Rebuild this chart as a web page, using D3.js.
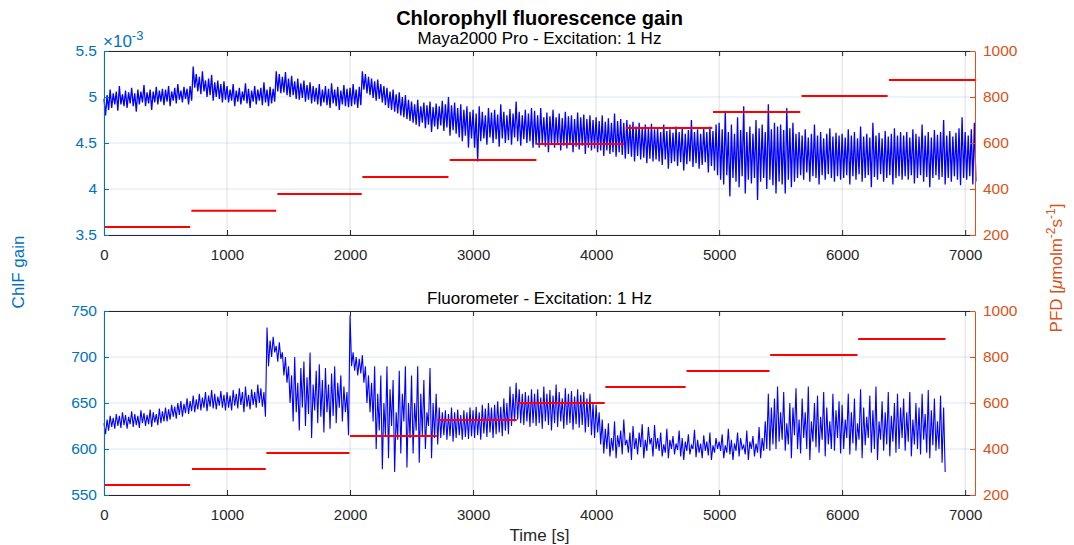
<!DOCTYPE html>
<html>
<head>
<meta charset="utf-8">
<script src="https://cdn.jsdelivr.net/npm/d3@7"></script>
<style>
  body { margin: 0; background: #fff; }
  text { font-family: "Liberation Sans", Arial, Helvetica, sans-serif; }
</style>
</head>
<body>
<div id="chart-area"></div>
<script>
const W = 1074, H = 545
const LEFT = 104, RIGHT = 975
const TOP_PANEL = {top: 51, bottom: 235}
const BOT_PANEL = {top: 311, bottom: 495}
const BLUE_AX = "#0072BD", ORANGE = "#D95319", DARK = "#262626"

// width of one time bin (s); each bin has a high and low value
const STEP = 25

// Maya2000 Pro ChlF gain (x1e-3), per 25 s bin
const mayaHi = [
  4.98, 5.02, 5.08, 5.04, 5.06, 5.12, 5.03, 5.07, 5.05, 5.10, 5.04, 5.08, 5.06, 5.13, 5.05, 5.08, 5.06, 5.11, 5.07, 5.09,
  5.08, 5.12, 5.06, 5.10, 5.14, 5.07, 5.11, 5.09, 5.12, 5.33, 5.25, 5.22, 5.28, 5.18, 5.20, 5.24, 5.16, 5.18, 5.14, 5.17,
  5.12, 5.08, 5.14, 5.07, 5.10, 5.06, 5.15, 5.09, 5.07, 5.12, 5.08, 5.10, 5.16, 5.08, 5.11, 5.09, 5.28, 5.25, 5.22, 5.27,
  5.20, 5.23, 5.17, 5.20, 5.15, 5.18, 5.13, 5.16, 5.12, 5.10, 5.14, 5.08, 5.12, 5.09, 5.15, 5.08, 5.11, 5.07, 5.13, 5.09,
  5.10, 5.14, 5.08, 5.11, 5.28, 5.25, 5.22, 5.20, 5.17, 5.19, 5.14, 5.12, 5.10, 5.06, 5.08, 5.03, 5.05, 5.00, 5.02, 4.97,
  4.95, 4.92, 4.97, 4.90, 4.94, 4.91, 4.95, 4.89, 4.93, 4.90, 4.96, 4.92, 5.00, 4.91, 4.94, 4.88, 4.92, 4.86, 4.90, 4.84,
  4.86, 4.82, 4.90, 4.84, 4.80, 4.88, 4.83, 4.86, 4.81, 4.92, 4.84, 4.80, 4.87, 4.82, 4.95, 4.84, 4.80, 4.86, 4.82, 4.88,
  4.85, 4.80, 4.88, 4.78, 4.83, 4.79, 4.86, 4.78, 4.82, 4.77, 4.84, 4.79, 4.80, 4.76, 4.83, 4.78, 4.81, 4.76, 4.80, 4.75,
  4.78, 4.74, 4.80, 4.73, 4.77, 4.72, 4.82, 4.74, 4.76, 4.72, 4.75, 4.70, 4.73, 4.68, 4.72, 4.67, 4.70, 4.66, 4.71, 4.65,
  4.66, 4.62, 4.70, 4.63, 4.65, 4.61, 4.68, 4.62, 4.66, 4.60, 4.64, 4.75, 4.62, 4.65, 4.60, 4.66, 4.62, 4.68, 4.63, 4.70,
  4.72, 4.65, 4.85, 4.62, 4.70, 4.60, 4.78, 4.64, 4.90, 4.62, 4.68, 4.60, 4.75, 4.66, 4.70, 4.62, 4.92, 4.65, 4.72, 4.68,
  4.70, 4.64, 4.88, 4.66, 4.72, 4.60, 4.62, 4.58, 4.65, 4.56, 4.60, 4.70, 4.58, 4.62, 4.55, 4.60, 4.66, 4.57, 4.61, 4.58,
  4.60, 4.56, 4.65, 4.58, 4.62, 4.55, 4.68, 4.57, 4.60, 4.56, 4.72, 4.58, 4.61, 4.55, 4.63, 4.57, 4.60, 4.66, 4.58, 4.62,
  4.58, 4.62, 4.56, 4.65, 4.60, 4.57, 4.70, 4.58, 4.62, 4.56, 4.64, 4.59, 4.62, 4.75, 4.58, 4.63, 4.57, 4.61, 4.66, 4.78,
  4.62, 4.58, 4.65, 4.72
]
const mayaLo = [
  4.80, 4.86, 4.88, 4.92, 4.85, 4.92, 4.90, 4.88, 4.93, 4.90, 4.84, 4.92, 4.94, 4.90, 4.93, 4.86, 4.94, 4.92, 4.95, 4.91,
  4.95, 4.90, 4.96, 4.93, 4.97, 4.94, 4.98, 4.92, 4.96, 5.10, 5.06, 5.03, 5.06, 5.00, 5.02, 4.96, 5.00, 4.98, 4.94, 4.97,
  4.94, 4.96, 4.90, 4.95, 4.92, 4.96, 4.93, 4.88, 4.95, 4.92, 4.96, 4.91, 4.94, 4.90, 4.93, 4.95, 5.06, 5.04, 5.05, 5.02,
  5.00, 5.02, 4.98, 4.97, 4.99, 4.95, 4.97, 4.93, 4.95, 4.92, 4.90, 4.94, 4.91, 4.88, 4.93, 4.90, 4.86, 4.92, 4.90, 4.89,
  4.90, 4.92, 4.88, 4.91, 5.08, 5.04, 5.02, 4.99, 4.96, 4.98, 4.94, 4.91, 4.88, 4.86, 4.84, 4.82, 4.80, 4.78, 4.76, 4.74,
  4.72, 4.70, 4.68, 4.72, 4.66, 4.70, 4.62, 4.68, 4.65, 4.69, 4.63, 4.67, 4.58, 4.64, 4.60, 4.56, 4.52, 4.58, 4.45, 4.55,
  4.45, 4.30, 4.52, 4.55, 4.48, 4.56, 4.50, 4.54, 4.46, 4.55, 4.50, 4.53, 4.48, 4.56, 4.52, 4.47, 4.54, 4.50, 4.52, 4.45,
  4.48, 4.45, 4.50, 4.46, 4.40, 4.49, 4.45, 4.48, 4.42, 4.47, 4.44, 4.48, 4.40, 4.46, 4.43, 4.47, 4.38, 4.45, 4.42, 4.44,
  4.40, 4.42, 4.36, 4.42, 4.38, 4.40, 4.35, 4.40, 4.37, 4.33, 4.38, 4.35, 4.30, 4.36, 4.32, 4.34, 4.28, 4.33, 4.30, 4.32,
  4.30, 4.26, 4.32, 4.22, 4.28, 4.30, 4.25, 4.29, 4.20, 4.27, 4.30, 4.24, 4.28, 4.22, 4.26, 4.29, 4.18, 4.25, 4.20, 4.15,
  4.10, 4.05, 4.15, 3.92, 4.12, 4.08, 4.02, 4.14, 3.95, 4.10, 4.06, 4.12, 3.88, 4.08, 4.12, 4.00, 4.10, 4.04, 3.95, 4.08,
  4.05, 3.95, 4.10, 4.02, 4.08, 4.12, 4.15, 4.10, 4.18, 4.08, 4.14, 4.12, 4.05, 4.15, 4.10, 4.16, 4.12, 4.08, 4.14, 4.10,
  4.12, 4.15, 4.05, 4.14, 4.10, 4.16, 4.08, 4.12, 4.15, 4.02, 4.13, 4.10, 4.16, 4.08, 4.12, 4.15, 4.05, 4.12, 4.14, 4.10,
  4.14, 4.10, 4.15, 4.06, 4.12, 4.15, 4.08, 4.13, 4.02, 4.12, 4.15, 4.10, 4.13, 4.05, 4.12, 4.08, 4.14, 4.10, 4.04, 4.12,
  4.10, 4.14, 4.05, 4.08
]

// Fluorometer ChlF gain, per 25 s bin
const fluoHi = [
  628, 632, 636, 634, 638, 636, 640, 637, 635, 641, 638, 636, 642, 639, 637, 643, 640, 638, 644, 641,
  645, 643, 648, 646, 650, 652, 649, 655, 652, 658, 654, 660, 656, 662, 658, 664, 660, 657, 663, 659,
  662, 658, 664, 660, 666, 662, 668, 659, 665, 662, 670, 666, 662, 732, 718, 722, 712, 716, 705, 700,
  690, 680, 700, 672, 688, 695, 678, 705, 670, 685, 692, 675, 688, 670, 682, 690, 672, 680, 668, 662,
  745, 705, 700, 698, 702, 690, 680, 672, 690, 660, 680, 650, 690, 665, 675, 640, 685, 660, 690, 650,
  680, 650, 690, 660, 675, 640, 688, 650, 660, 645, 640, 642, 638, 645, 640, 643, 637, 642, 640, 645,
  642, 646, 640, 648, 644, 650, 645, 648, 652, 646, 655, 650, 668, 660, 672, 665, 660, 662, 658, 665,
  660, 665, 656, 668, 660, 664, 658, 670, 662, 655, 666, 660, 663, 657, 665, 659, 662, 655, 660, 650,
  648, 640, 632, 622, 628, 612, 630, 615, 620, 632, 610, 618, 625, 612, 618, 627, 610, 624, 612, 626,
  612, 618, 605, 622, 610, 614, 606, 620, 612, 608, 616, 604, 621, 610, 606, 615, 608, 618, 604, 612,
  608, 616, 604, 622, 610, 606, 618, 612, 604, 620, 608, 614, 606, 624, 612, 630, 660, 645, 655, 668,
  640, 662, 628, 650, 645, 666, 632, 655, 640, 668, 630, 650, 658, 635, 662, 645, 630, 660, 642, 652,
  648, 632, 660, 640, 655, 628, 665, 645, 635, 658, 642, 668, 630, 652, 640, 662, 636, 650, 660, 645,
  655, 640, 662, 632, 650, 645, 660, 638, 664, 642, 655, 630, 658, 645
]
const fluoLo = [
  616, 620, 624, 622, 625, 623, 626, 622, 627, 624, 626, 623, 628, 625, 627, 624, 629, 626, 628, 630,
  630, 632, 635, 633, 637, 635, 639, 638, 641, 640, 643, 642, 645, 641, 646, 644, 643, 647, 645, 642,
  645, 642, 647, 644, 648, 640, 646, 643, 648, 645, 650, 646, 635, 690, 700, 705, 695, 698, 680, 672,
  650, 630, 640, 620, 645, 625, 638, 612, 642, 628, 635, 618, 640, 622, 636, 628, 645, 630, 640, 615,
  690, 685, 680, 682, 672, 650, 640, 630, 600, 620, 578, 615, 590, 625, 575, 610, 595, 630, 580, 612,
  595, 620, 585, 615, 600, 625, 590, 612, 605, 612, 615, 610, 614, 608, 612, 615, 610, 613, 611, 614,
  612, 615, 610, 617, 613, 618, 612, 616, 618, 614, 620, 616, 625, 630, 632, 628, 626, 630, 624, 628,
  625, 628, 622, 630, 626, 620, 628, 624, 630, 622, 626, 628, 621, 627, 623, 626, 618, 624, 615, 612,
  618, 605, 595, 600, 592, 598, 590, 602, 594, 604, 596, 588, 600, 594, 602, 590, 598, 605, 592, 600,
  598, 592, 596, 590, 600, 594, 599, 592, 588, 598, 594, 600, 591, 596, 590, 598, 593, 588, 596, 600,
  598, 590, 596, 594, 588, 598, 592, 600, 594, 588, 600, 592, 596, 590, 598, 600, 598, 605, 600, 608,
  610, 598, 605, 590, 615, 600, 595, 612, 600, 588, 608, 602, 596, 610, 592, 605, 600, 598, 612, 595,
  600, 612, 594, 606, 598, 610, 590, 604, 612, 596, 600, 588, 610, 598, 605, 592, 608, 596, 600, 612,
  598, 608, 592, 605, 600, 594, 610, 596, 590, 604, 598, 600, 585, 575
]

// PFD steps: start (s), end (s), level (umol m-2 s-1)
const mayaStart = [0, 710, 1410, 2100, 2810, 3520, 4240, 4950, 5670, 6380]
const mayaEnd   = [700, 1400, 2095, 2800, 3515, 4230, 4945, 5660, 6370, 7090]
const mayaPFD   = [235, 305, 378, 452, 526, 596, 665, 735, 804, 874]

const fluoStart = [0, 715, 1320, 2000, 2710, 3360, 4075, 4735, 5415, 6130]
const fluoEnd   = [700, 1315, 1995, 2705, 3355, 4070, 4728, 5410, 6125, 6840]
const fluoPFD   = [243, 313, 383, 457, 526, 600, 670, 739, 809, 878]

const xTicks = [0, 1000, 2000, 3000, 4000, 5000, 6000, 7000]
const rightTicks = [200, 400, 600, 800, 1000]

const svg = d3.select("#chart-area").append("svg")
  .attr("width", W)
  .attr("height", H)

const x = d3.scaleLinear().domain([0, 7080]).range([LEFT, RIGHT])

function panel (p, yDomain, yTicks, hi, lo, lineW, starts, ends, pfd, subtitle) {
  const y = d3.scaleLinear().domain(yDomain).range([p.bottom, p.top])
  const yR = d3.scaleLinear().domain([200, 1000]).range([p.bottom, p.top])
  const g = svg.append("g")

  // grid
  g.selectAll(".vgrid").data(xTicks).enter().append("line")
    .attr("x1", d => x(d)).attr("x2", d => x(d))
    .attr("y1", p.top).attr("y2", p.bottom)
    .attr("stroke", DARK).attr("stroke-opacity", 0.15)
  g.selectAll(".hgrid").data(yTicks).enter().append("line")
    .attr("x1", LEFT).attr("x2", RIGHT)
    .attr("y1", d => y(d)).attr("y2", d => y(d))
    .attr("stroke", BLUE_AX).attr("stroke-opacity", 0.15)

  // blue trace: high then low value of each bin
  const pts = []
  hi.forEach((v, i) => {
    pts.push([i * STEP, v])
    pts.push([i * STEP + STEP / 2, lo[i]])
  })
  const line = d3.line()
    .x(d => x(d[0]))
    .y(d => y(d[1]))
  g.append("path")
    .datum(pts)
    .attr("fill", "none")
    .attr("stroke", "#0000FF")
    .attr("stroke-width", lineW)
    .attr("d", line)

  // PFD steps
  g.selectAll(".step").data(pfd).enter().append("line")
    .attr("x1", (d, i) => x(starts[i]))
    .attr("x2", (d, i) => x(ends[i]))
    .attr("y1", d => yR(d)).attr("y2", d => yR(d))
    .attr("stroke", "#FF0000").attr("stroke-width", 2)

  // box top + x axes
  g.append("line").attr("x1", LEFT).attr("x2", RIGHT).attr("y1", p.top + 0.5).attr("y2", p.top + 0.5)
    .attr("stroke", DARK)
  const xAxis = g.append("g").attr("transform", `translate(0, ${p.bottom})`)
    .call(d3.axisBottom(x).tickValues(xTicks).tickFormat(d3.format("d"))
      .tickSizeInner(-5).tickSizeOuter(0).tickPadding(14))
  xAxis.select(".domain").attr("stroke", DARK)
  xAxis.selectAll(".tick line").attr("stroke", DARK)
  xAxis.selectAll("text").attr("fill", DARK).attr("font-size", "15px")
  const xTop = g.append("g").attr("transform", `translate(0, ${p.top})`)
    .call(d3.axisTop(x).tickValues(xTicks).tickSizeInner(-5).tickSizeOuter(0).tickFormat(""))
  xTop.select(".domain").remove()
  xTop.selectAll(".tick line").attr("stroke", DARK)

  // left axis
  const yAx = g.append("g").attr("transform", `translate(${LEFT}, 0)`)
    .call(d3.axisLeft(y).tickValues(yTicks).tickFormat(d3.format(""))
      .tickSizeInner(-5).tickSizeOuter(0).tickPadding(7))
  yAx.select(".domain").attr("stroke", BLUE_AX)
  yAx.selectAll(".tick line").attr("stroke", BLUE_AX)
  yAx.selectAll("text").attr("fill", BLUE_AX).attr("font-size", "15.5px")

  // right axis
  const rAx = g.append("g").attr("transform", `translate(${RIGHT}, 0)`)
    .call(d3.axisRight(yR).tickValues(rightTicks).tickFormat(d3.format("d"))
      .tickSizeInner(-5).tickSizeOuter(0).tickPadding(8))
  rAx.select(".domain").attr("stroke", ORANGE)
  rAx.selectAll(".tick line").attr("stroke", ORANGE)
  rAx.selectAll("text").attr("fill", ORANGE).attr("font-size", "15.5px")

  g.append("text")
    .attr("x", (LEFT + RIGHT) / 2).attr("y", p.top - 7)
    .attr("text-anchor", "middle").attr("font-size", "17px").attr("fill", "#000")
    .text(subtitle)
}

panel(TOP_PANEL, [3.5, 5.5], [3.5, 4, 4.5, 5, 5.5], mayaHi, mayaLo, 1.3,
  mayaStart, mayaEnd, mayaPFD, "Maya2000 Pro - Excitation: 1 Hz")
panel(BOT_PANEL, [550, 750], [550, 600, 650, 700, 750], fluoHi, fluoLo, 1.1,
  fluoStart, fluoEnd, fluoPFD, "Fluorometer - Excitation: 1 Hz")

// titles and labels
svg.append("text")
  .attr("x", (LEFT + RIGHT) / 2).attr("y", 25)
  .attr("text-anchor", "middle").attr("font-size", "20px").attr("font-weight", "bold")
  .text("Chlorophyll fluorescence gain")

const expo = svg.append("text")
  .attr("x", 103).attr("y", 47)
  .attr("font-size", "17px").attr("fill", BLUE_AX)
expo.append("tspan").text("\u00d710")
expo.append("tspan").attr("dy", -7).attr("font-size", "13px").text("-3")

svg.append("text")
  .attr("transform", `translate(24, 272) rotate(-90)`)
  .attr("text-anchor", "middle").attr("font-size", "17px").attr("fill", BLUE_AX)
  .text("ChlF gain")

const pfdLabel = svg.append("text")
  .attr("transform", `translate(1062, 268) rotate(-90)`)
  .attr("text-anchor", "middle").attr("font-size", "17px").attr("fill", ORANGE)
pfdLabel.append("tspan").text("PFD [")
pfdLabel.append("tspan").attr("font-style", "italic").text("\u03bc")
pfdLabel.append("tspan").text("molm")
pfdLabel.append("tspan").attr("dy", -7).attr("font-size", "12px").text("-2")
pfdLabel.append("tspan").attr("dy", 7).text("s")
pfdLabel.append("tspan").attr("dy", -7).attr("font-size", "12px").text("-1")
pfdLabel.append("tspan").attr("dy", 7).text("]")

svg.append("text")
  .attr("x", (LEFT + RIGHT) / 2).attr("y", 541)
  .attr("text-anchor", "middle").attr("font-size", "17px").attr("fill", DARK)
  .text("Time [s]")
</script>
</body>
</html>
